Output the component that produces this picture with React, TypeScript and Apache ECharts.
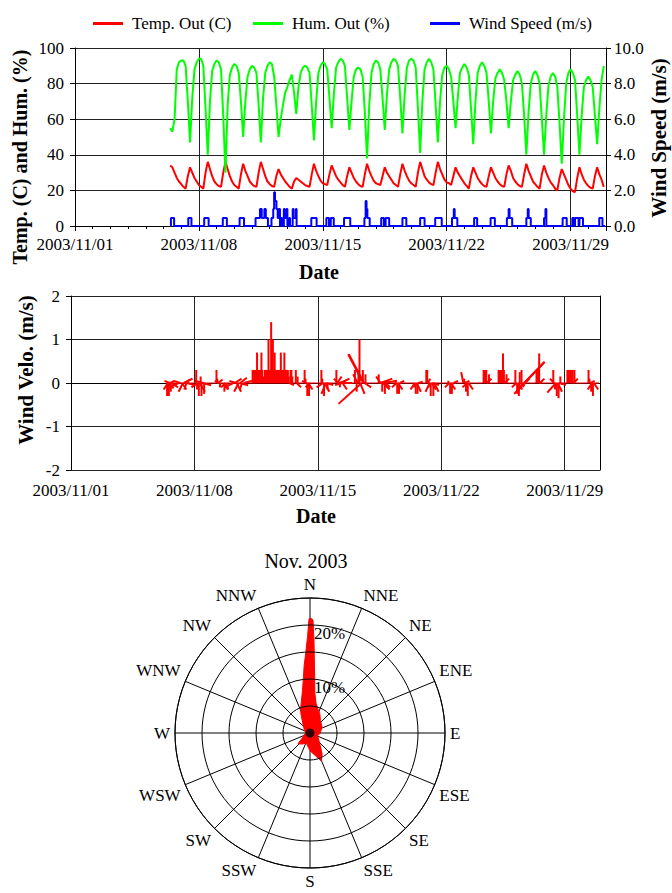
import React, { useEffect, useRef } from 'react';
import * as echarts from 'echarts';

const FONT = '"Liberation Serif", "Times New Roman", serif';

// ---------- data ----------
const xTickLabels = ['2003/11/01', '2003/11/08', '2003/11/15', '2003/11/22', '2003/11/29'];
const directionNames = ['N', 'NNE', 'NE', 'ENE', 'E', 'ESE', 'SE', 'SSE', 'S', 'SSW', 'SW', 'WSW', 'W', 'WNW', 'NW', 'NNW'];
const legendNames = ['Temp. Out (C)', 'Hum. Out (%)', 'Wind Speed (m/s)'];

// day offset (days since 2003/11/01 00:00) of the first row; each row = 00,03,...,21 h
const firstDataDay = 5;
const samplesPerDay = 8;

const humidityRows: (number | null)[][] = [
  [null, null, null, 55, 53, 60, 88, 92],
  [93, 93, 90, 70, 47, 72, 88, 92],
  [94, 94, 90, 66, 40, 70, 87, 91],
  [93, 92, 88, 62, 30, 68, 85, 89],
  [91, 90, 86, 70, 50, 70, 84, 88],
  [90, 89, 86, 68, 47, 72, 86, 90],
  [92, 91, 84, 68, 50, 60, 68, 75],
  [78, 82, 85, 75, 63, 78, 86, 89],
  [90, 89, 86, 68, 48, 70, 86, 90],
  [92, 91, 88, 72, 55, 74, 89, 92],
  [94, 93, 90, 72, 54, 70, 84, 88],
  [89, 88, 84, 64, 38, 68, 86, 91],
  [93, 92, 88, 72, 54, 74, 88, 92],
  [94, 93, 90, 72, 52, 74, 89, 93],
  [94, 93, 89, 66, 41, 70, 88, 92],
  [94, 92, 88, 68, 47, 70, 85, 89],
  [90, 88, 84, 70, 55, 72, 86, 89],
  [91, 89, 85, 66, 46, 70, 86, 90],
  [92, 90, 86, 70, 52, 70, 83, 86],
  [88, 86, 82, 70, 55, 70, 82, 85],
  [87, 85, 80, 62, 40, 64, 80, 85],
  [87, 85, 80, 60, 40, 62, 79, 84],
  [86, 84, 78, 58, 35, 60, 80, 86],
  [88, 86, 82, 62, 40, 62, 78, 82],
  [84, 82, 78, 62, 46, 66, 82, 90],
];

const temperatureRows: (number | null)[][] = [
  [null, null, null, 34, 33, 30, 27, 25],
  [23.5, 22, 21, 28, 33, 30, 27, 25],
  [23, 22, 21, 30, 36, 32, 28, 25],
  [23.5, 22.5, 22, 30, 36, 32, 28, 25],
  [23, 22, 21, 29, 35, 31, 28, 25],
  [23.5, 22.5, 22, 30, 36, 32, 28, 25],
  [23.5, 22.5, 22, 28, 32, 29, 27, 25],
  [23.5, 22, 21, 25, 27, 26, 25, 24],
  [23, 22.5, 22, 29, 35, 31, 28, 25.5],
  [24, 23.5, 23, 29, 34, 31, 28, 26],
  [24.5, 23, 22, 28, 33, 30, 27, 25],
  [23.5, 22.5, 22, 29, 35, 31, 28, 25.5],
  [24, 23.5, 23, 28, 33, 30, 28, 26],
  [24, 23, 22, 29, 35, 31, 28, 25.5],
  [24, 23, 22, 30, 36, 32, 28, 26],
  [24.5, 23.5, 23, 30, 36, 32, 29, 26],
  [24.5, 24, 23, 28, 33, 30, 28, 26],
  [24, 22.5, 21, 28, 33, 30, 27, 25],
  [23.5, 22.5, 22, 28, 33, 30, 27, 25],
  [23.5, 22.5, 22, 29, 34, 31, 27, 25],
  [23.5, 22.5, 22, 29, 35, 31, 28, 25],
  [23.5, 22, 21, 29, 34, 30, 27, 24.5],
  [23, 21, 20, 27, 32, 29, 26, 23],
  [21, 19.5, 19, 27, 33, 29, 26, 24],
  [22.5, 21.5, 21, 28, 33, 29, 26, 22],
];

// [day, m/s] drawn as steps
const windSpeedSteps: [number, number][] = [
  [5.38, 0], [5.42, 0.45], [5.6, 0],
  [6.4, 0.45], [6.58, 0],
  [7.3, 0.45], [7.55, 0],
  [8.35, 0.45], [8.58, 0],
  [9.3, 0.45], [9.55, 0],
  [10.2, 0.45], [10.45, 0.95], [10.55, 0.45], [10.7, 0.95], [10.78, 0.45], [10.9, 0],
  [11.1, 0.45], [11.2, 0.95], [11.25, 1.9], [11.3, 1.4], [11.38, 0.95], [11.45, 0.45], [11.52, 0.95], [11.58, 0], [11.62, 0.45], [11.7, 0],
  [11.8, 0.95], [11.85, 0.45], [11.95, 0.95], [12.0, 0], [12.1, 0.45], [12.15, 0],
  [12.3, 0.95], [12.35, 0.45], [12.48, 0.95], [12.52, 0],
  [13.35, 0.45], [13.65, 0],
  [14.2, 0.45], [14.35, 0], [14.45, 0.45], [14.62, 0],
  [15.2, 0.45], [15.55, 0],
  [16.35, 0.45], [16.42, 1.4], [16.47, 0.95], [16.52, 0.45], [16.65, 0],
  [17.3, 0.45], [17.45, 0], [17.55, 0.45], [17.75, 0],
  [18.5, 0.45], [18.72, 0],
  [19.5, 0.45], [19.75, 0],
  [20.35, 0.45], [20.72, 0],
  [21.3, 0.45], [21.4, 0.95], [21.45, 0.45], [21.6, 0],
  [22.55, 0.45], [22.72, 0],
  [23.48, 0.45], [23.72, 0],
  [24.4, 0.45], [24.5, 0.95], [24.55, 0.45], [24.7, 0],
  [25.5, 0.45], [25.58, 0.95], [25.63, 0.45], [25.75, 0],
  [26.5, 0.45], [26.58, 0.95], [26.63, 0],
  [27.55, 0.45], [27.78, 0],
  [28.1, 0.45], [28.2, 0], [28.25, 0.45], [28.45, 0], [28.5, 0.45], [28.7, 0],
  [29.62, 0.45], [29.8, 0],
  [29.95, 0],
];

// wind sticks: [day, u (m/s, east), v (m/s, north)]
const windSticks: [number, number, number][] = [
  [5.45, 0, -0.3], [5.5, -0.1, -0.15], [5.52, 0.12, -0.12], [5.55, 0, -0.3], [5.6, -0.12, 0.05], [5.62, 0.1, 0.05], [5.66, 0, -0.2], [5.7, 0.15, -0.1],
  [6.1, -0.2, -0.1], [6.2, -0.15, 0.05], [6.3, 0.1, -0.15], [6.35, -0.1, -0.2], [6.4, 0.2, 0.1], [6.5, 0.1, 0.08], [6.55, -0.05, -0.15], [6.6, 0.15, -0.05],
  [7.1, 0, 0.3], [7.15, 0, -0.15], [7.2, -0.15, -0.1], [7.25, 0, -0.3], [7.3, 0.12, -0.2], [7.35, 0, 0.15], [7.4, 0, -0.3], [7.45, 0.2, -0.05], [7.5, -0.2, 0.05], [7.55, 0, -0.25],
  [8.25, 0, 0.3], [8.3, 0, 0.1], [8.35, 0.1, 0.08], [8.4, -0.1, 0.05], [8.45, 0, -0.1], [8.65, 0.1, -0.15], [8.7, 0, -0.2], [8.75, -0.1, -0.1], [8.8, 0.05, -0.15],
  [9.2, -0.2, -0.1], [9.3, 0.15, 0.1], [9.35, -0.15, 0.05], [9.4, 0.1, -0.2], [9.5, -0.1, -0.2], [9.55, 0.2, -0.05], [9.6, 0.15, 0.12], [9.7, -0.05, -0.15], [9.8, 0.2, 0.05],
  [10.3, 0, 0.3], [10.35, 0, 0.3], [10.4, 0, 0.3], [10.45, 0, 0.3], [10.5, 0, 0.3], [10.55, 0, 0.7], [10.6, 0, 0.3], [10.65, 0, 0.3], [10.7, 0, 0.3], [10.75, 0, 0.3], [10.8, 0, 0.7], [10.85, 0, 0.3], [10.9, 0, 0.15],
  [11.0, 0, 0.3], [11.05, 0, 0.3], [11.1, 0, 0.3], [11.15, 0, 0.3], [11.2, 0, 1.0], [11.25, 0, 0.3], [11.3, 0, 0.3], [11.35, 0, 1.4], [11.4, 0, 1.0], [11.45, 0, 1.0], [11.5, 0, 0.3], [11.55, 0, 0.7],
  [11.6, 0, 0.3], [11.65, 0, 0.3], [11.7, 0, 0.3], [11.75, 0, 0.3], [11.8, 0, 0.3], [11.85, 0, 0.3], [11.9, 0, 0.7], [11.95, 0, 0.3], [12.0, 0, 0.3], [12.05, 0, 0.3], [12.1, 0, 0.7],
  [12.15, 0, 0.3], [12.2, 0, 0.3], [12.25, 0, 0.3], [12.3, 0, 0.3], [12.35, 0, 0.15], [12.4, 0.1, -0.05], [12.45, 0, 0.3], [12.5, 0, 0.3], [12.55, 0, 0.15],
  [12.75, 0, 0.3], [12.8, 0.1, -0.1], [12.85, 0, 0.15],
  [13.25, 0, 0.3], [13.3, 0, 0.1], [13.35, -0.1, 0.05], [13.4, 0, -0.3], [13.45, 0.1, -0.15], [13.5, 0, -0.3], [13.55, -0.1, -0.1],
  [14.2, 0, 0.3], [14.25, 0, 0.1], [14.3, -0.15, -0.1], [14.35, 0, -0.3], [14.4, 0.1, -0.2], [14.45, -0.1, -0.25], [14.5, 0.15, -0.05], [14.55, 0, -0.15],
  [15.05, 0, 0.3], [15.1, 0.1, 0.15], [15.15, -0.1, 0.1], [15.2, 0.15, 0.05], [15.25, 0, -0.1], [15.3, 0.2, 0.1], [15.35, -0.15, -0.05], [15.4, 0.1, -0.15], [15.45, 0.2, 0],
  [16.1, 0, 0.3], [16.15, 0.15, 0.1], [16.2, 0, -0.2], [16.25, -0.1, 0.2], [16.3, 0, 0.3], [16.36, 0, 1.0], [16.4, 0.1, -0.25], [16.48, -0.53, -0.48], [16.55, 0, 0.3],
  [16.58, -0.35, 0.66], [16.62, -0.35, 0.66], [16.65, 0.15, -0.1], [16.7, 0, 0.2],
  [17.45, 0, 0.2], [17.5, 0.2, 0.05], [17.55, -0.1, 0.15], [17.6, 0.25, 0.1], [17.65, 0, -0.2], [17.7, 0.15, -0.15], [17.75, 0.3, 0.05], [17.8, 0, -0.25], [17.85, 0.1, -0.1],
  [18.4, 0, 0.05], [18.45, -0.1, -0.1], [18.5, 0, -0.25], [18.55, 0.1, -0.15], [18.6, 0, -0.25], [18.65, 0.1, 0.05],
  [19.45, 0, -0.1], [19.5, -0.1, -0.15], [19.55, 0, -0.25], [19.6, 0.1, -0.2], [19.65, 0, -0.25], [19.7, 0.1, 0.03],
  [20.15, 0, 0.3], [20.2, 0, 0.3], [20.25, 0.05, 0.1], [20.3, 0, -0.1], [20.35, -0.1, -0.2], [20.4, 0, -0.3], [20.45, 0.1, -0.15], [20.5, 0.15, -0.05], [20.55, 0, -0.3], [20.6, 0.1, -0.2],
  [21.4, 0, 0.05], [21.45, -0.1, -0.1], [21.5, 0, -0.25], [21.55, 0.1, -0.15], [21.6, 0, -0.25], [21.65, -0.05, -0.2], [21.7, 0.1, 0.05],
  [22.25, -0.05, 0.25], [22.3, 0, 0.1], [22.35, 0.1, 0.05], [22.4, 0, -0.2], [22.45, -0.1, -0.1], [22.5, 0, -0.3], [22.55, 0.1, -0.15],
  [23.4, 0, 0.3], [23.45, 0, 0.3], [23.5, 0, 0.3], [23.55, 0, 0.3], [23.6, 0.1, 0.1], [23.65, -0.1, 0.1], [23.7, 0, 0.2],
  [24.25, 0, 0.3], [24.3, 0, 0.3], [24.35, 0, 0.3], [24.4, 0, 0.3], [24.5, 0, 0.68], [24.55, 0, 0.3], [24.6, 0.1, 0.1], [24.65, -0.1, 0.1], [24.7, 0, 0.2],
  [25.2, 0, 0.3], [25.25, -0.1, -0.1], [25.3, 0, -0.25], [25.35, 0.1, -0.15], [25.4, 0, -0.3], [25.45, 0, 0.25], [25.5, 0.1, -0.05], [25.55, 0, 0.3], [25.6, -0.1, -0.2],
  [25.65, 0, -0.1], [25.7, 0.47, 0.49], [25.72, 0.45, 0.47], [25.7, -0.23, -0.25], [25.75, 0.1, 0.1],
  [26.4, 0, 0.3], [26.45, 0, 0.3], [26.5, 0, 0.3], [26.55, 0, 0.68], [26.6, 0.1, 0.1], [26.65, -0.1, 0.05],
  [27.35, 0, 0.3], [27.4, -0.1, 0.1], [27.45, 0, -0.15], [27.5, -0.2, -0.22], [27.55, 0, -0.3], [27.6, 0.1, -0.2], [27.65, 0, -0.35], [27.7, 0.15, -0.05], [27.75, 0, 0.15],
  [28.15, 0, 0.3], [28.2, 0, 0.3], [28.25, 0, 0.3], [28.3, 0, 0.3], [28.35, 0, 0.2], [28.4, 0, 0.3], [28.45, 0, 0.3], [28.5, 0.1, 0.1], [28.55, 0, 0.3],
  [29.35, 0, 0.3], [29.4, 0, 0.1], [29.45, 0.1, 0.05], [29.5, 0, -0.2], [29.55, -0.1, -0.15], [29.6, 0, -0.3], [29.65, 0.1, -0.15],
];

// first and last day of the stick record (zero line)
const stickBaseline: [number, number][] = [[5.38, 0], [29.95, 0]];

// wind rose outline: direction (deg, clockwise from N) and frequency (%)
const roseAngles = [0, 1.5, 2.5, 3, 5, 7, 12, 20, 27, 40, 63, 90, 110, 135, 150, 158, 165, 180, 200, 215, 228, 240, 270, 300, 320, 335, 341, 350, 353.5, 355, 357, 358.6, 359.5, 360];
const rosePercents = [21.3, 21.0, 17, 14.9, 10, 7.4, 5.5, 4.5, 4.0, 3.0, 2.5, 1.9, 1.5, 2.5, 4.5, 5.6, 4.5, 3.3, 2.0, 2.5, 3.0, 1.5, 0.8, 1.2, 2.0, 4.0, 5.2, 8.0, 10.6, 12.5, 14.9, 18, 21.1, 21.3];

// ---------- helpers ----------
function rowsToSeries(rows: (number | null)[][]): [number, number][] {
  const out: [number, number][] = [];
  rows.forEach((row, i) =>
    row.forEach((v, k) => {
      if (v !== null) out.push([firstDataDay + i + k / samplesPerDay, v]);
    })
  );
  return out;
}

const dateFormatter = (v: number) => {
  const i = v / 7;
  return Number.isInteger(i) && xTickLabels[i] ? xTickLabels[i] : '';
};

const GRID_COLOR = '#222';
const axisText = { fontFamily: FONT, fontSize: 17, color: '#000' };
const titleStyle = { fontFamily: FONT, fontWeight: 'bold', fill: '#000', textAlign: 'center', textVerticalAlign: 'middle' };

export default function App() {
  const ref = useRef<HTMLDivElement>(null);

  useEffect(() => {
    if (!ref.current) return;
    const chart = echarts.init(ref.current, null, { renderer: 'svg', width: 672, height: 893 });

    const legendBase = {
      top: 10,
      icon: 'rect',
      itemWidth: 30,
      itemHeight: 3,
      selectedMode: false,
      textStyle: { fontFamily: FONT, fontSize: 17, color: '#000', padding: [0, 0, 0, 4] },
    };

    const option: any = {
      animation: false,
      backgroundColor: '#fff',
      legend: [
        { ...legendBase, left: 88, data: [legendNames[0]] },
        { ...legendBase, left: 248, data: [legendNames[1]] },
        { ...legendBase, left: 425, data: [legendNames[2]] },
      ],
      grid: [
        { left: 75, right: 66, top: 48, height: 178 },
        { left: 71, right: 72, top: 296, height: 174 },
      ],
      xAxis: [
        {
          type: 'value', gridIndex: 0, min: 0, max: 30, interval: 7,
          axisLine: { lineStyle: { color: '#000' } },
          axisTick: { length: 5, lineStyle: { color: '#000' } },
          minorTick: { show: true, splitNumber: 7, length: 3, lineStyle: { color: '#000' } },
          axisLabel: { ...axisText, margin: 10, formatter: dateFormatter },
          splitLine: { show: true, lineStyle: { color: GRID_COLOR, width: 1 } },
        },
        {
          type: 'value', gridIndex: 1, min: 0, max: 30, interval: 7,
          axisLine: { lineStyle: { color: '#000' } },
          axisTick: { length: 5, lineStyle: { color: '#000' } },
          axisLabel: { ...axisText, margin: 12, formatter: dateFormatter },
          splitLine: { show: true, lineStyle: { color: GRID_COLOR, width: 1 } },
        },
      ],
      yAxis: [
        {
          type: 'value', gridIndex: 0, min: 0, max: 100, interval: 20, position: 'left',
          axisLine: { show: true, lineStyle: { color: '#000' } },
          axisTick: { show: true, length: 5, lineStyle: { color: '#000' } },
          axisLabel: { ...axisText, margin: 11 },
          splitLine: { show: true, lineStyle: { color: GRID_COLOR, width: 1 } },
        },
        {
          type: 'value', gridIndex: 0, min: 0, max: 10, interval: 2, position: 'right',
          axisLine: { show: true, lineStyle: { color: '#000' } },
          axisTick: { show: true, length: 5, lineStyle: { color: '#000' } },
          axisLabel: { ...axisText, margin: 8, formatter: (v: number) => v.toFixed(1) },
          splitLine: { show: false },
        },
        {
          type: 'value', gridIndex: 1, min: -2, max: 2, interval: 1, position: 'left',
          axisLine: { show: true, lineStyle: { color: '#000' } },
          axisTick: { show: true, length: 5, lineStyle: { color: '#000' } },
          axisLabel: { ...axisText, margin: 11 },
          splitLine: { show: true, lineStyle: { color: GRID_COLOR, width: 1 } },
        },
        {
          type: 'value', gridIndex: 1, min: -2, max: 2, interval: 1, position: 'right',
          axisLine: { show: true, lineStyle: { color: '#000' } },
          axisTick: { show: false },
          axisLabel: { show: false },
          splitLine: { show: false },
        },
      ],
      polar: { center: [310, 733], radius: 135 },
      angleAxis: {
        type: 'value', min: 0, max: 360, interval: 22.5, startAngle: 90, clockwise: true,
        axisLine: { show: true, lineStyle: { color: '#000', width: 1 } },
        axisTick: { show: false },
        axisLabel: { ...axisText, margin: 5, formatter: (v: number) => directionNames[Math.round(v / 22.5) % 16] },
        splitLine: { show: true, lineStyle: { color: '#000', width: 1 } },
      },
      radiusAxis: {
        min: 0, max: 25, interval: 5,
        axisLine: { show: false },
        axisTick: { show: false },
        axisLabel: {
          ...axisText,
          margin: -4,
          align: 'left',
          verticalAlign: 'top',
          formatter: (v: number) => (v === 10 || v === 20 ? v + '%' : ''),
        },
        splitLine: { show: true, lineStyle: { color: '#000', width: 1 } },
        z: 5,
      },
      graphic: [
        { type: 'text', x: 20, y: 157, rotation: Math.PI / 2, style: { ...titleStyle, text: 'Temp. (C) and Hum. (%)', fontSize: 20 } },
        { type: 'text', x: 659, y: 138, rotation: Math.PI / 2, style: { ...titleStyle, text: 'Wind Speed (m/s)', fontSize: 21 } },
        { type: 'text', x: 319, y: 272, style: { ...titleStyle, text: 'Date', fontSize: 20 } },
        { type: 'text', x: 26, y: 370, rotation: Math.PI / 2, style: { ...titleStyle, text: 'Wind Velo. (m/s)', fontSize: 21 } },
        { type: 'text', x: 316, y: 516, style: { ...titleStyle, text: 'Date', fontSize: 20 } },
        { type: 'text', x: 306, y: 561, style: { ...titleStyle, fontWeight: 'normal', text: 'Nov. 2003', fontSize: 20 } },
      ],
      series: [
        {
          name: legendNames[0], type: 'line', xAxisIndex: 0, yAxisIndex: 0,
          data: rowsToSeries(temperatureRows), symbol: 'none',
          lineStyle: { color: '#ff0000', width: 2 }, itemStyle: { color: '#ff0000' },
        },
        {
          name: legendNames[1], type: 'line', xAxisIndex: 0, yAxisIndex: 0,
          data: rowsToSeries(humidityRows), symbol: 'none',
          lineStyle: { color: '#00ff00', width: 2 }, itemStyle: { color: '#00ff00' },
        },
        {
          name: legendNames[2], type: 'line', xAxisIndex: 0, yAxisIndex: 1,
          data: windSpeedSteps, symbol: 'none', step: 'end',
          lineStyle: { color: '#0000ff', width: 2 }, itemStyle: { color: '#0000ff' },
        },
        {
          type: 'line', xAxisIndex: 1, yAxisIndex: 2, data: stickBaseline, symbol: 'none',
          lineStyle: { color: '#ff0000', width: 1 },
        },
        {
          type: 'custom', xAxisIndex: 1, yAxisIndex: 2,
          dimensions: ['t', 'u', 'v'],
          encode: { x: 0, y: 2 },
          data: windSticks,
          renderItem: (_params: any, api: any) => {
            const t = api.value(0);
            const u = api.value(1);
            const v = api.value(2);
            const p0 = api.coord([t, 0]);
            const p1 = api.coord([t, v]);
            const unit = p0[1] - api.coord([t, 1])[1];
            return {
              type: 'line',
              shape: { x1: p0[0], y1: p0[1], x2: p0[0] + u * unit, y2: p1[1] },
              style: { stroke: '#ff0000', lineWidth: 2 },
            };
          },
        },
        {
          type: 'line', coordinateSystem: 'polar',
          data: roseAngles.map((a, i) => [rosePercents[i], a]),
          symbol: 'none',
          lineStyle: { color: '#ff0000', width: 1 },
          areaStyle: { color: '#ff0000', opacity: 1 },
          z: 3,
        },
        {
          type: 'scatter', coordinateSystem: 'polar',
          data: [[0, 0]], symbolSize: 9,
          itemStyle: { color: '#000' },
          z: 6,
        },
      ],
    };

    chart.setOption(option);
    return () => chart.dispose();
  }, []);

  return (
    <div
      ref={ref}
      style={{ position: 'absolute', left: 0, top: 0, width: 672, height: 893, background: '#fff' }}
    />
  );
}
